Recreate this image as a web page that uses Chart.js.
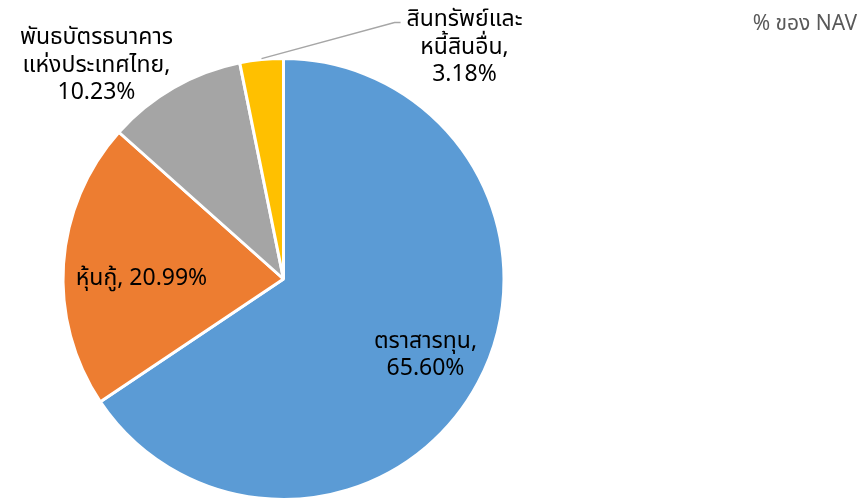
<!DOCTYPE html>
<html lang="th">
<head>
    <meta charset="UTF-8">
    <title>% ของ NAV</title>
    <script src="https://cdn.jsdelivr.net/npm/chart.js"></script>
    <style>
        html, body { margin: 0; padding: 0; background: #fff; }
        #wrap { width: 866px; height: 501px; position: relative; }
    </style>
</head>
<body>
    <div id="wrap">
        <canvas id="navChart"></canvas>
    </div>

    <script>
        // data
        const categories = ["ตราสารทุน", "หุ้นกู้", "พันธบัตรธนาคารแห่งประเทศไทย", "สินทรัพย์และหนี้สินอื่น"];
        const navPercent = [65.60, 20.99, 10.23, 3.18];
        const sliceColors = ["#5B9BD5", "#ED7D31", "#A5A5A5", "#FFC000"];
        const chartTitle = "% ของ NAV";

        // how each label is written (lines) and where it sits
        const labelLines = [
            ["ตราสารทุน,", "65.60%"],
            ["หุ้นกู้, 20.99%"],
            ["พันธบัตรธนาคาร", "แห่งประเทศไทย,", "10.23%"],
            ["สินทรัพย์และ", "หนี้สินอื่น,", "3.18%"]
        ];
        // inside labels: along the bisector at a fraction of the radius
        // others: offset from the pie centre
        const labelPlace = [
            { inside: 0.73 },
            { dx: -142, dy: -1 },
            { dx: -187, dy: -214 },
            { dx: 181, dy: -232, leader: true }
        ];

        const FONT = "'Noto Sans', 'Noto Sans Thai', Tahoma, sans-serif";

        const labelPlugin = {
            id: 'pieLabels',
            afterDatasetsDraw(chart) {
                const ctx = chart.ctx;
                const arcs = chart.getDatasetMeta(0).data;
                ctx.save();
                ctx.textAlign = 'center';
                ctx.textBaseline = 'middle';
                ctx.font = "23px " + FONT;
                ctx.fillStyle = '#000';
                const lh = 27.5;
                arcs.forEach((arc, i) => {
                    const p = arc.getProps(['x', 'y', 'startAngle', 'endAngle', 'outerRadius'], true);
                    const place = labelPlace[i];
                    let cx, cy;
                    if (place.inside) {
                        const mid = (p.startAngle + p.endAngle) / 2;
                        cx = p.x + Math.cos(mid) * p.outerRadius * place.inside;
                        cy = p.y + Math.sin(mid) * p.outerRadius * place.inside;
                    } else {
                        cx = p.x + place.dx;
                        cy = p.y + place.dy;
                    }
                    const lines = labelLines[i];
                    const top = cy - (lines.length - 1) * lh / 2;
                    if (place.leader) {
                        const mid = (p.startAngle + p.endAngle) / 2;
                        const sx = p.x + Math.cos(mid) * p.outerRadius;
                        const sy = p.y + Math.sin(mid) * p.outerRadius;
                        const w = ctx.measureText(lines[0]).width;
                        const ex = cx - w / 2 - 6;
                        ctx.strokeStyle = '#A6A6A6';
                        ctx.lineWidth = 1.5;
                        ctx.beginPath();
                        ctx.moveTo(sx, sy - 1);
                        ctx.lineTo(ex - 6, top + 3);
                        ctx.lineTo(ex, top + 3);
                        ctx.stroke();
                    }
                    lines.forEach((t, k) => ctx.fillText(t, cx, top + k * lh));
                });

                // title in the top right
                ctx.font = "21px " + FONT;
                ctx.fillStyle = '#595959';
                ctx.textAlign = 'right';
                ctx.fillText(chartTitle, 857, 24);
                ctx.restore();
            }
        };

        new Chart(document.getElementById('navChart'), {
            type: 'pie',
            data: {
                labels: categories,
                datasets: [{
                    data: navPercent,
                    backgroundColor: sliceColors,
                    borderColor: '#ffffff',
                    borderWidth: 3,
                    hoverOffset: 0,
                    offset: 0
                }]
            },
            options: {
                responsive: true,
                maintainAspectRatio: false,
                animation: false,
                layout: { padding: { left: 42, right: 341, top: 57, bottom: 0 } },
                plugins: {
                    legend: { display: false },
                    tooltip: { enabled: false },
                    title: { display: false }
                }
            },
            plugins: [labelPlugin]
        });
    </script>
</body>
</html>
